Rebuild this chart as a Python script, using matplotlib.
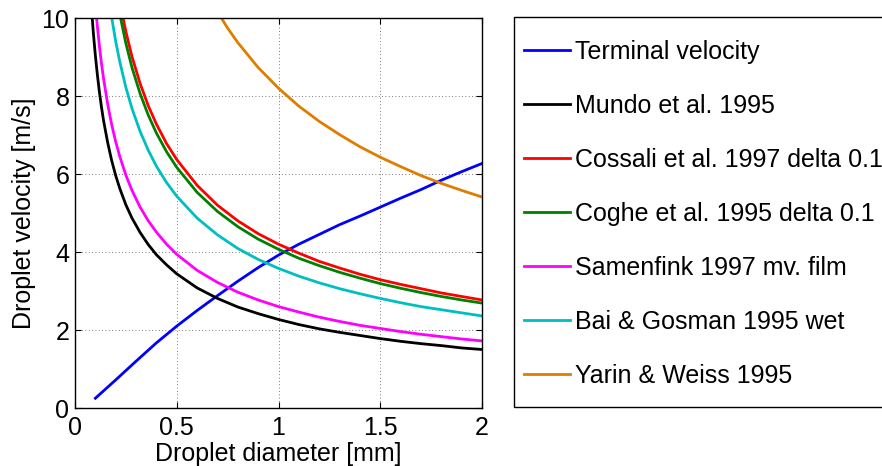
import matplotlib
matplotlib.use("Agg")
import matplotlib.pyplot as plt
from matplotlib.patches import Rectangle

# droplet diameter [mm] for the splash-criterion curves
diam_mm = [0.08, 0.09, 0.10, 0.11, 0.12, 0.13, 0.14, 0.16, 0.18, 0.20, 0.22, 0.25,
           0.28, 0.32, 0.36, 0.40, 0.45, 0.50, 0.60, 0.70, 0.80, 0.90, 1.00, 1.10,
           1.20, 1.30, 1.40, 1.50, 1.60, 1.70, 1.80, 1.90, 2.00]

mundo = [10.33, 9.63, 9.04, 8.54, 8.10, 7.72, 7.38, 6.82, 6.35, 5.96, 5.63, 5.21,
         4.87, 4.50, 4.19, 3.93, 3.67, 3.44, 3.08, 2.81, 2.59, 2.42, 2.27, 2.14,
         2.03, 1.94, 1.86, 1.78, 1.71, 1.65, 1.60, 1.54, 1.50]
cossali = [19.11, 17.81, 16.72, 15.79, 14.99, 14.28, 13.66, 12.61, 11.75, 11.03, 10.42, 9.65,
           9.01, 8.32, 7.75, 7.28, 6.78, 6.37, 5.71, 5.20, 4.80, 4.47, 4.20, 3.97,
           3.76, 3.59, 3.43, 3.29, 3.17, 3.06, 2.95, 2.86, 2.77]
coghe = [18.52, 17.26, 16.20, 15.30, 14.53, 13.84, 13.24, 12.22, 11.39, 10.69, 10.10, 9.35,
         8.73, 8.06, 7.51, 7.05, 6.57, 6.17, 5.53, 5.04, 4.65, 4.33, 4.07, 3.84,
         3.65, 3.48, 3.33, 3.19, 3.07, 2.96, 2.86, 2.77, 2.69]
samenfink = [11.83, 11.03, 10.35, 9.78, 9.28, 8.84, 8.46, 7.81, 7.27, 6.83, 6.45, 5.97,
             5.58, 5.15, 4.80, 4.51, 4.20, 3.94, 3.53, 3.22, 2.97, 2.77, 2.60, 2.46,
             2.33, 2.22, 2.12, 2.04, 1.96, 1.89, 1.83, 1.77, 1.72]
bai_gosman = [16.29, 15.18, 14.25, 13.46, 12.78, 12.18, 11.65, 10.75, 10.02, 9.40, 8.88, 8.22,
              7.68, 7.09, 6.61, 6.20, 5.78, 5.43, 4.87, 4.44, 4.09, 3.81, 3.58, 3.38,
              3.21, 3.06, 2.93, 2.81, 2.70, 2.60, 2.52, 2.44, 2.36]

yarin_diam = [0.6, 0.65, 0.7, 0.75, 0.8, 0.9, 1.0, 1.1, 1.2, 1.3, 1.4, 1.5, 1.6, 1.7,
              1.8, 1.9, 2.0]
yarin_weiss = [11.14, 10.62, 10.16, 9.74, 9.37, 8.73, 8.20, 7.74, 7.35, 7.01, 6.70, 6.43,
               6.19, 5.96, 5.76, 5.58, 5.41]

# terminal velocity of falling droplets
term_diam = [0.1, 0.2, 0.3, 0.4, 0.5, 0.6, 0.7, 0.8, 0.9, 1.0, 1.1, 1.2, 1.3, 1.4, 1.5,
             1.6, 1.7, 1.8, 1.9, 2.0]
term_vel = [0.25, 0.72, 1.2, 1.67, 2.1, 2.5, 2.88, 3.25, 3.6, 3.92, 4.2, 4.45, 4.7, 4.92,
            5.15, 5.38, 5.6, 5.84, 6.06, 6.27]

plt.rcParams["font.family"] = ["Liberation Sans", "DejaVu Sans"]
plt.rcParams["font.size"] = 18

W, H = 882, 466
fig = plt.figure(figsize=(W / 100, H / 100), dpi=100)
ax = fig.add_axes([75 / W, 58 / H, 407 / W, 390 / H])

lw = 2
ax.plot(term_diam, term_vel, color=(0, 0, 1), lw=lw, label="Terminal velocity")
ax.plot(diam_mm, mundo, color="k", lw=lw, label="Mundo et al. 1995")
ax.plot(diam_mm, cossali, color=(1, 0, 0), lw=lw, label="Cossali et al. 1997 delta 0.1")
ax.plot(diam_mm, coghe, color=(0, 0.5, 0), lw=lw, label="Coghe et al. 1995 delta 0.1")
ax.plot(diam_mm, samenfink, color=(1, 0, 1), lw=lw, label="Samenfink 1997 mv. film")
ax.plot(diam_mm, bai_gosman, color=(0, 0.75, 0.75), lw=lw, label="Bai & Gosman 1995 wet")
ax.plot(yarin_diam, yarin_weiss, color=(0.87, 0.49, 0.0), lw=lw, label="Yarin & Weiss 1995")

ax.set_xlim(0, 2)
ax.set_ylim(0, 10)
ax.set_xticks([0, 0.5, 1, 1.5, 2])
ax.set_xticklabels(["0", "0.5", "1", "1.5", "2"])
ax.set_yticks([0, 2, 4, 6, 8, 10])
ax.grid(True, linestyle=(0, (1, 3)), color="k", lw=0.6, alpha=0.7)
ax.tick_params(direction="in", top=True, right=True, length=4, width=0.8)
ax.tick_params(axis="x", pad=6)
ax.tick_params(axis="y", pad=4)
for s in ax.spines.values():
    s.set_linewidth(1.0)
ax.set_xlabel("Droplet diameter [mm]", labelpad=1)
ax.set_ylabel("Droplet velocity [m/s]", labelpad=4)

# legend box sits outside the axes, frame drawn separately
fig.patches.append(Rectangle((514 / W, 59 / H), 372 / W, 390 / H, transform=fig.transFigure,
                             fill=False, edgecolor="k", lw=1.0, clip_on=False))
leg = ax.legend(loc="upper left", bbox_to_anchor=(524 / W, 1 - 40 / H),
                bbox_transform=fig.transFigure, frameon=False,
                borderpad=0, labelspacing=1.2, handlelength=1.84,
                handletextpad=0.2, borderaxespad=0)

fig.savefig("out.png", dpi=100)
